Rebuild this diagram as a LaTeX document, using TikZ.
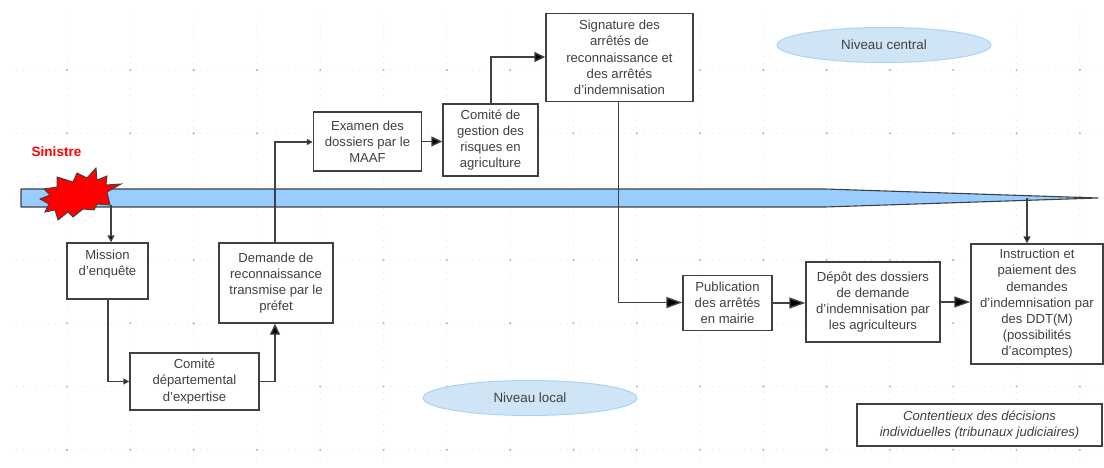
\documentclass[tikz,border=0pt]{standalone}
\usepackage{fontspec}
\setmainfont{Liberation Sans}
\usetikzlibrary{arrows.meta,calc,shapes.geometric}
\definecolor{barblue}{HTML}{99CCFF}
\definecolor{ellblue}{HTML}{CFE5F5}
\definecolor{elledge}{HTML}{A9D3F7}
\definecolor{ink}{HTML}{404040}
\tikzset{
  x=1pt,y=-1pt,
  boxnode/.style={draw=ink,line width=1.4pt,fill=white,align=center,inner sep=0pt,text=ink,font=\fontsize{13.1}{16.2}\selectfont},
  levelnode/.style={draw=elledge,line width=1pt,fill=ellblue,ellipse,inner sep=0pt,minimum width=214pt,minimum height=35pt,text=ink,font=\fontsize{13.4}{15}\selectfont},
  conn/.style={draw=ink,line width=1.4pt},
  bigtip/.style={conn,-{Triangle[length=11pt,width=10pt,fill=black]}},
  longtip/.style={conn,-{Triangle[length=16pt,width=11pt,fill=black]}},
  smalltip/.style={conn,-{Triangle[length=7pt,width=7pt,fill=black]}},
  tinytip/.style={conn,-{Triangle[length=6pt,width=6pt,fill=black]}},
}
\begin{document}
\begin{tikzpicture}
\useasboundingbox (0,0) rectangle (1104,468);
% grid: minor dots
\foreach \i in {0,...,16}{
  \pgfmathsetmacro{\gx}{67+63.3*\i}
  \foreach \j in {0,...,72}{
    \pgfmathsetmacro{\gy}{13+6.33*\j}
    \fill[black!11] (\gx,\gy) circle (0.6pt);
  }
}
\foreach \j in {0,...,6}{
  \pgfmathsetmacro{\gy}{70+63.3*\j}
  \foreach \i in {0,...,173}{
    \pgfmathsetmacro{\gx}{10.5+6.33*\i}
    \fill[black!11] (\gx,\gy) circle (0.6pt);
  }
}
% grid: major dots
\foreach \i in {0,...,16}{
  \foreach \j in {0,...,6}{
    \pgfmathsetmacro{\gx}{67+63.3*\i}
    \pgfmathsetmacro{\gy}{70+63.3*\j}
    \fill[black!28] (\gx,\gy) circle (1.2pt);
  }
}
% levels
\node[levelnode] (central) at (884,45) {Niveau central};
\node[levelnode] (local) at (530,398) {Niveau local};
% timeline bar
\draw[draw=ink,line width=1.1pt,fill=barblue,line join=round]
  (21,189) coordinate (barw) -- (825,189) -- (1098,198) coordinate (bartip) -- (825,207) -- (21,207) -- cycle;
% boxes
\tikzset{box/.style args={#1/#2}{boxnode,minimum width=#1 pt,minimum height=#2 pt}}
\node[box=81/56] (mission) at (107.5,271) {Mission\\d’enquête\\~};
\node[box=129/57] (cde) at (194.5,381.5) {Comité\\départemental\\d’expertise};
\node[box=114/80] (demande) at (276,283) {Demande de\\reconnaissance\\transmise par le\\préfet};
\node[box=108/59] (examen) at (367.5,141.5) {Examen des\\dossiers par le\\MAAF};
\node[box=95/72] (cgr) at (490.5,140) {Comité de\\gestion des\\risques en\\agriculture};
\node[box=147/88] (signature) at (619.5,57.5) {Signature des\\arrêtés de\\reconnaissance et\\des arrêtés\\d’indemnisation};
\node[box=89/55] (publication) at (727.5,303) {Publication\\des arrêtés\\en mairie};
\node[box=134/80] (depot) at (873,302) {Dépôt des dossiers\\de demande\\d’indemnisation par\\les agriculteurs};
\node[box=132/120] (instruction) at (1037,304) {Instruction et\\paiement des\\demandes\\d’indemnisation par\\des DDT(M)\\(possibilités\\d’acomptes)};
\node[boxnode,minimum width=245pt,minimum height=42pt,font=\fontsize{13.1}{15.8}\selectfont\itshape] (contentieux) at (979.5,425) {Contentieux des décisions\\individuelles (tribunaux judiciaires)};
% star
\coordinate (starout) at (111,205);
\coordinate (barout) at (1027,198);
\draw[smalltip] (starout) -- (starout |- mission.north);
\draw[smalltip] (barout) -- (barout |- instruction.north);
\draw[draw=ink,line width=0.9pt,fill=red,line join=miter]
  (57,177)--(73,182)--(77,173)--(87,178)--(96,168)--(97,180)--(107,176)--(106,185)--(121,184)--(107,192)--(110,205)--(97,204)--(94,210)--(83,209)--(73,217)--(68,212)--(58,220)--(55,210)--(45,212)--(49,204)--(40,199)--(50,195)--(44,189)--(57,187)--cycle;
\node[text=red,font=\bfseries\fontsize{13.5}{15}\selectfont,inner sep=0pt] (sinistre) at (56.5,152) {Sinistre};
% connectors
\coordinate (m1) at (108,381.5);
\coordinate (c1) at (275,381.5);
\coordinate (d1) at (275,142);
\coordinate (g1) at (491,57);
\coordinate (s1) at (618.5,302.5);
\draw[tinytip] (m1 |- mission.south) -- (m1) -- (cde.west |- m1);
\draw[bigtip] (cde.east) -- (c1) -- (c1 |- demande.south);
\draw[tinytip] (d1 |- demande.north) -- (d1) -- (examen.west |- d1);
\draw[bigtip] (examen.east) -- (cgr.west |- examen.east);
\draw[bigtip] (g1 |- cgr.north) -- (g1) -- (signature.west |- g1);
\draw[longtip] (s1 |- signature.south) -- (s1) -- (publication.west |- s1);
\draw[longtip] (publication.east) -- (depot.west |- publication.east);
\draw[longtip] (depot.east) -- (instruction.west |- depot.east);
\end{tikzpicture}
\end{document}
